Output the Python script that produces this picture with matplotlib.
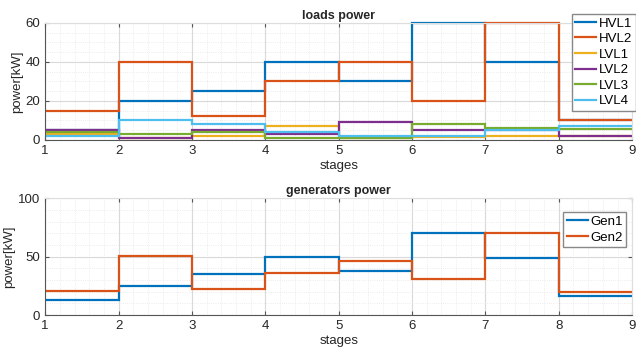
import matplotlib
matplotlib.use("Agg")
import matplotlib.pyplot as plt
from matplotlib.ticker import MultipleLocator
import numpy as np

plt.rcParams["font.family"] = ["Liberation Sans", "DejaVu Sans"]

# stage edges 1..9, one value per stage (stairs)
stages = [1, 2, 3, 4, 5, 6, 7, 8, 9]

load_names = ["HVL1", "HVL2", "LVL1", "LVL2", "LVL3", "LVL4"]
hvl1 = [5, 20, 25, 40, 30, 60, 40, 10]
hvl2 = [15, 40, 12, 30, 40, 20, 60, 10]
lvl1 = [3, 1, 2, 7, 1, 1.5, 2, 2]
lvl2 = [5, 1, 5, 3, 9, 5, 5, 2]
lvl3 = [4, 3, 4, 1, 1, 8, 6, 5.5]
lvl4 = [2, 10, 8, 4, 2, 2, 5, 7]

gen_names = ["Gen1", "Gen2"]
gen1 = [13, 25, 35, 50, 38, 70, 49, 16]
gen2 = [21, 51, 22, 36, 46, 31, 70, 20]

COLORS = ["#0072BD", "#D95319", "#EDB120", "#7E2F8E", "#77AC30", "#4DBEEE"]
TXT = "#262626"


def style(ax, ymax, ymajor, yminor):
    ax.set_xlim(1, 9); ax.set_ylim(0, ymax)
    ax.xaxis.set_major_locator(MultipleLocator(1)); ax.xaxis.set_minor_locator(MultipleLocator(0.2))
    ax.yaxis.set_major_locator(MultipleLocator(ymajor)); ax.yaxis.set_minor_locator(MultipleLocator(yminor))
    ax.grid(True, which="major", color="#d9d9d9", lw=0.8)
    ax.grid(True, which="minor", color="#e6e6e6", lw=0.6, ls=":")
    ax.set_axisbelow(True)
    ax.tick_params(which="both", direction="in", labelsize=9.5, colors=TXT, top=True, right=True)
    ax.tick_params(which="minor", length=0)
    ax.tick_params(which="major", length=3, color="#555555")
    for s in ("left", "bottom"):
        ax.spines[s].set_color("#555555")
    for s in ("top", "right"):
        ax.spines[s].set_color("#dddddd")
    ax.set_xlabel("stages", fontsize=9.5, color=TXT, labelpad=2)
    ax.set_ylabel("power[kW]", fontsize=9.5, color=TXT, labelpad=2)


fig = plt.figure(figsize=(6.36, 3.56), dpi=100)
ax1 = fig.add_axes([0.071, 0.607, 0.923, 0.329])
ax2 = fig.add_axes([0.071, 0.115, 0.923, 0.328])

for vals, name, c in zip([hvl1, hvl2, lvl1, lvl2, lvl3, lvl4], load_names, COLORS):
    ax1.stairs(vals, stages, baseline=None, color=c, lw=1.6, label=name, clip_on=False)
style(ax1, 60, 20, 5)
ax1.set_title("loads power", fontsize=9, fontweight="bold", color=TXT, pad=3)
handles = [plt.Line2D([], [], color=c, lw=1.6) for c in COLORS]
leg = ax1.legend(handles, load_names, loc="upper right", bbox_to_anchor=(1.006, 1.075), fontsize=9.5,
                 handlelength=1.6, handletextpad=0.2, labelspacing=0.25, borderpad=0.25,
                 fancybox=False, framealpha=1, edgecolor="#888888", borderaxespad=0)
leg.set_zorder(5)

for vals, name, c in zip([gen1, gen2], gen_names, COLORS[:2]):
    ax2.stairs(vals, stages, baseline=None, color=c, lw=1.6, label=name, clip_on=False)
style(ax2, 100, 50, 10)
ax2.set_title("generators power", fontsize=9, fontweight="bold", color=TXT, pad=3)
handles = [plt.Line2D([], [], color=c, lw=1.6) for c in COLORS[:2]]
ax2.legend(handles, gen_names, loc="upper right", bbox_to_anchor=(0.99, 0.88), fontsize=9.5,
           handlelength=1.6, handletextpad=0.2, labelspacing=0.3, borderpad=0.25,
           fancybox=False, framealpha=1, edgecolor="#888888", borderaxespad=0)

fig.savefig("out.png", dpi=100)
